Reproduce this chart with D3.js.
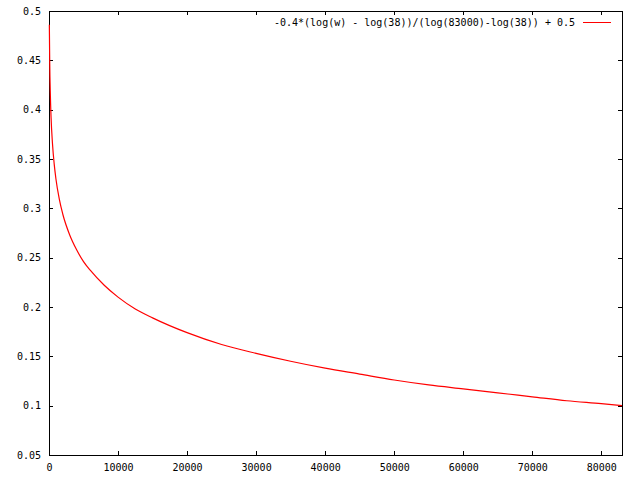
<!DOCTYPE html>
<html>
<head>
<meta charset="utf-8">
<script src="https://cdn.jsdelivr.net/npm/d3@7"></script>
<style>
  html, body { margin: 0; padding: 0; background: #fff; }
  svg { display: block; }
  text { font-family: "DejaVu Sans Mono", monospace; font-size: 10px; fill: #000; }
</style>
</head>
<body>
<div id="chart"></div>
<script>
// values
const wValues = [50, 100, 200, 300, 500, 750, 1000, 1500, 2000, 3000, 4000, 5000, 6000, 8000,
  10000, 12500, 15000, 20000, 25000, 30000, 35000, 40000, 45000, 50000, 55000, 60000,
  65000, 70000, 75000, 80000, 83000];
const yValues = [0.486, 0.450, 0.414, 0.392, 0.366, 0.345, 0.330, 0.309, 0.294, 0.273, 0.258, 0.246, 0.237, 0.222,
  0.210, 0.198, 0.189, 0.174, 0.162, 0.153, 0.145, 0.138, 0.132, 0.126, 0.121, 0.117,
  0.113, 0.109, 0.105, 0.102, 0.100];
const xTicks = [0, 10000, 20000, 30000, 40000, 50000, 60000, 70000, 80000];
const yTicks = [0.05, 0.1, 0.15, 0.2, 0.25, 0.3, 0.35, 0.4, 0.45, 0.5];
const legendLabel = "-0.4*(log(w) - log(38))/(log(83000)-log(38)) + 0.5";

const width = 640, height = 480;
const margin = {top: 11, right: 18, bottom: 25, left: 49};

const svg = d3.select("#chart").append("svg").attr("width", width).attr("height", height);

const x = d3.scaleLinear().domain([0, 83000]).range([margin.left, width - margin.right]);
const y = d3.scaleLinear().domain([0.05, 0.5]).range([height - margin.bottom, margin.top]);

const tickLen = 4;
const fmtY = d => d3.format("")(+d.toFixed(2));

// bottom / top axes
svg.append("g").attr("transform", `translate(0,${y(0.05)})`)
  .call(d3.axisBottom(x).tickValues(xTicks).tickSize(-tickLen).tickPadding(9).tickFormat(d3.format("d")))
  .call(g => g.select(".domain").remove());
svg.append("g").attr("transform", `translate(0,${y(0.5)})`)
  .call(d3.axisTop(x).tickValues(xTicks).tickSize(-tickLen).tickFormat(""))
  .call(g => g.select(".domain").remove());
// left / right axes
svg.append("g").attr("transform", `translate(${x(0)},0)`)
  .call(d3.axisLeft(y).tickValues(yTicks).tickSize(-tickLen).tickPadding(8).tickFormat(fmtY))
  .call(g => g.select(".domain").remove());
svg.append("g").attr("transform", `translate(${x(83000)},0)`)
  .call(d3.axisRight(y).tickValues(yTicks).tickSize(-tickLen).tickFormat(""))
  .call(g => g.select(".domain").remove());

svg.selectAll(".tick text").style("font-family", "DejaVu Sans Mono, monospace").style("font-size", "10px");
svg.selectAll(".tick line").attr("stroke", "#000").attr("shape-rendering", "crispEdges");

// frame
svg.append("rect")
  .attr("x", x(0)).attr("y", y(0.5))
  .attr("width", x(83000) - x(0)).attr("height", y(0.05) - y(0.5))
  .attr("fill", "none").attr("stroke", "#000").attr("shape-rendering", "crispEdges");

// curve
const pts = wValues.map((w, i) => [w, yValues[i]]);
const line = d3.line().x(d => x(d[0])).y(d => y(d[1])).curve(d3.curveMonotoneX);
svg.append("path").datum(pts)
  .attr("d", line).attr("fill", "none").attr("stroke", "#ff0000").attr("stroke-width", 1.2);

// legend
const legY = 22;
svg.append("line").attr("x1", 583).attr("x2", 611).attr("y1", legY).attr("y2", legY)
  .attr("stroke", "#ff0000").attr("shape-rendering", "crispEdges");
svg.append("text").attr("x", 575).attr("y", legY).attr("dy", "0.35em")
  .attr("text-anchor", "end").text(legendLabel);
</script>
</body>
</html>
